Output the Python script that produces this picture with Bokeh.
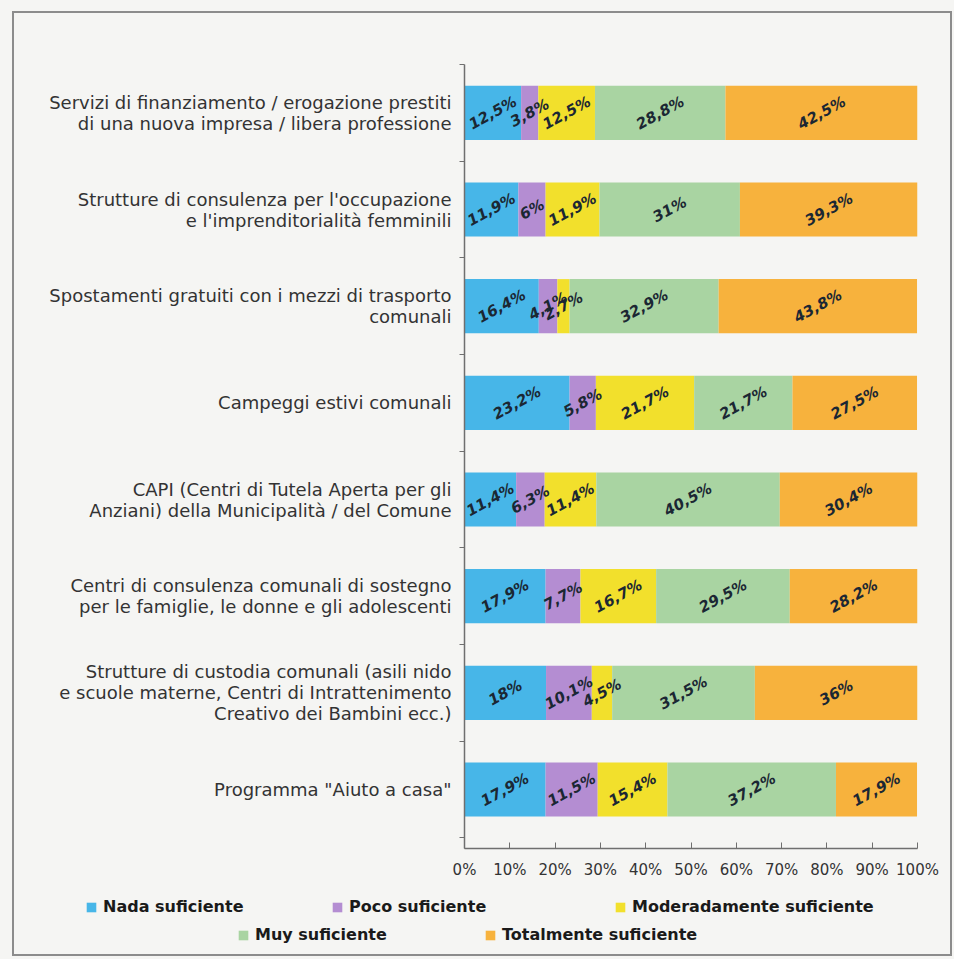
from bokeh.plotting import figure
from bokeh.layouts import column
from bokeh.models import ColumnDataSource, Range1d, FixedTicker, Legend, LegendItem
from bokeh.core.properties import value
from bokeh.embed import file_html
from bokeh.resources import INLINE

categories = [
    "Servizi di finanziamento / erogazione prestiti\ndi una nuova impresa / libera professione",
    "Strutture di consulenza per l'occupazione\ne l'imprenditorialità femminili",
    "Spostamenti gratuiti con i mezzi di trasporto\ncomunali",
    "Campeggi estivi comunali",
    "CAPI (Centri di Tutela Aperta per gli\nAnziani) della Municipalità / del Comune",
    "Centri di consulenza comunali di sostegno\nper le famiglie, le donne e gli adolescenti",
    "Strutture di custodia comunali (asili nido\ne scuole materne, Centri di Intrattenimento\nCreativo dei Bambini ecc.)",
    "Programma \"Aiuto a casa\"",
]
series_names = ["Nada suficiente", "Poco suficiente", "Moderadamente suficiente",
                "Muy suficiente", "Totalmente suficiente"]
nada = [12.5, 11.9, 16.4, 23.2, 11.4, 17.9, 18, 17.9]
poco = [3.8, 6, 4.1, 5.8, 6.3, 7.7, 10.1, 11.5]
moderadamente = [12.5, 11.9, 2.7, 21.7, 11.4, 16.7, 4.5, 15.4]
muy = [28.8, 31, 32.9, 21.7, 40.5, 29.5, 31.5, 37.2]
totalmente = [42.5, 39.3, 43.8, 27.5, 30.4, 28.2, 36, 17.9]
x_ticks = [0, 10, 20, 30, 40, 50, 60, 70, 80, 90, 100]
x_tick_labels = ["0%", "10%", "20%", "30%", "40%", "50%", "60%", "70%", "80%", "90%", "100%"]
colors = ["#47b6e8", "#b48dd2", "#f2e02c", "#a9d4a2", "#f7b23d"]

keys = ["nada", "poco", "moderadamente", "muy", "totalmente"]
series = [nada, poco, moderadamente, muy, totalmente]
ypos = [i + 0.5 for i in range(len(categories))]

data = {"y": ypos}
for k, s in zip(keys, series):
    data[k] = s
source = ColumnDataSource(data)

BG = "#f5f5f3"
MAIN_H = 885
p = figure(width=954, height=MAIN_H, output_backend="svg", toolbar_location=None,
           x_range=Range1d(0, 100), y_range=Range1d(8.11, 0),
           min_border_left=464, min_border_right=37, min_border_top=64,
           min_border_bottom=MAIN_H - 848,
           background_fill_color=BG, border_fill_color=BG)
p.frame_align = False
p.outline_line_color = None
p.grid.visible = False

renderers = p.hbar_stack(keys, y="y", height=0.56, color=colors, line_color=None, source=source)

# value labels inside the segments
lx, ly, lt = [], [], []
for i in range(len(categories)):
    left = 0.0
    for s in series:
        v = s[i]
        lx.append(left + v / 2)
        ly.append(ypos[i])
        lt.append(("%g" % v).replace(".", ",") + "%")
        left += v
lab_src = ColumnDataSource(dict(x=lx, y=ly, text=lt))
p.text(x="x", y="y", text="text", source=lab_src, angle=0.5,
       text_align="center", text_baseline="middle",
       text_font=value("DejaVu Sans"), text_font_style="bold italic",
       text_font_size="15px", text_color="#1b2733")

# axes
xa = p.xaxis[0]
xa.ticker = FixedTicker(ticks=x_ticks)
xa.major_label_overrides = {t: l for t, l in zip(x_ticks, x_tick_labels)}
xa.axis_line_color = "#6f6f6f"
xa.axis_line_width = 1.5
xa.major_tick_in = 6
xa.major_tick_out = 0
xa.major_tick_line_color = "#6f6f6f"
xa.minor_tick_line_color = None
xa.major_label_text_font = "DejaVu Sans"
xa.major_label_text_font_size = "15px"
xa.major_label_text_color = "#333333"
xa.major_label_standoff = 12

ya = p.yaxis[0]
ya.ticker = FixedTicker(ticks=ypos, minor_ticks=list(range(0, 9)))
ya.major_label_overrides = {y: c for y, c in zip(ypos, categories)}
ya.axis_line_color = "#6f6f6f"
ya.axis_line_width = 1.5
ya.major_tick_in = 0
ya.major_tick_out = 0
ya.minor_tick_in = 0
ya.minor_tick_out = 5
ya.minor_tick_line_color = "#6f6f6f"
ya.major_label_text_font = "DejaVu Sans"
ya.major_label_text_font_size = "18px"
ya.major_label_text_line_height = 1.0
ya.major_label_text_color = "#333333"
ya.major_label_standoff = 8

# legend strip below the chart
LEG_H = 959 - MAIN_H
lf = figure(width=954, height=LEG_H, output_backend="svg", toolbar_location=None,
            x_range=Range1d(0, 1), y_range=Range1d(0, 1),
            x_axis_location=None, y_axis_location=None,
            min_border_left=0, min_border_right=0, min_border_top=0, min_border_bottom=0,
            background_fill_color=BG, border_fill_color=BG)
lf.frame_align = False
lf.outline_line_color = None
lf.grid.visible = False

leg_pos = [(85, 43), (331, 43), (614, 43), (237, 15), (484, 15)]
for name, c, (lxp, lyp) in zip(series_names, colors, leg_pos):
    proxy = lf.hbar(y=[0.5], right=[0], height=0.1, fill_color=c, line_color=None, visible=False)
    lg = Legend(items=[LegendItem(label=name, renderers=[proxy])], location=(lxp, lyp),
                orientation="horizontal", padding=0, margin=0, spacing=0,
                glyph_width=12, glyph_height=12, label_standoff=6,
                border_line_color=None, background_fill_alpha=0,
                label_text_font="DejaVu Sans", label_text_font_style="bold",
                label_text_font_size="16px", label_text_color="#1a1a1a")
    lf.add_layout(lg, "center")

border_css = """
:host { position: relative; background-color: #f5f5f3; }
:host::after { content: ''; position: absolute; top: 11px; left: 12px; right: 2px; bottom: 3px;
  border: 2px solid #8c8c8c; pointer-events: none; z-index: 100; }
"""
layout = column(p, lf, spacing=0, stylesheets=[border_css])

open("out.html", "w").write(file_html(layout, INLINE))
